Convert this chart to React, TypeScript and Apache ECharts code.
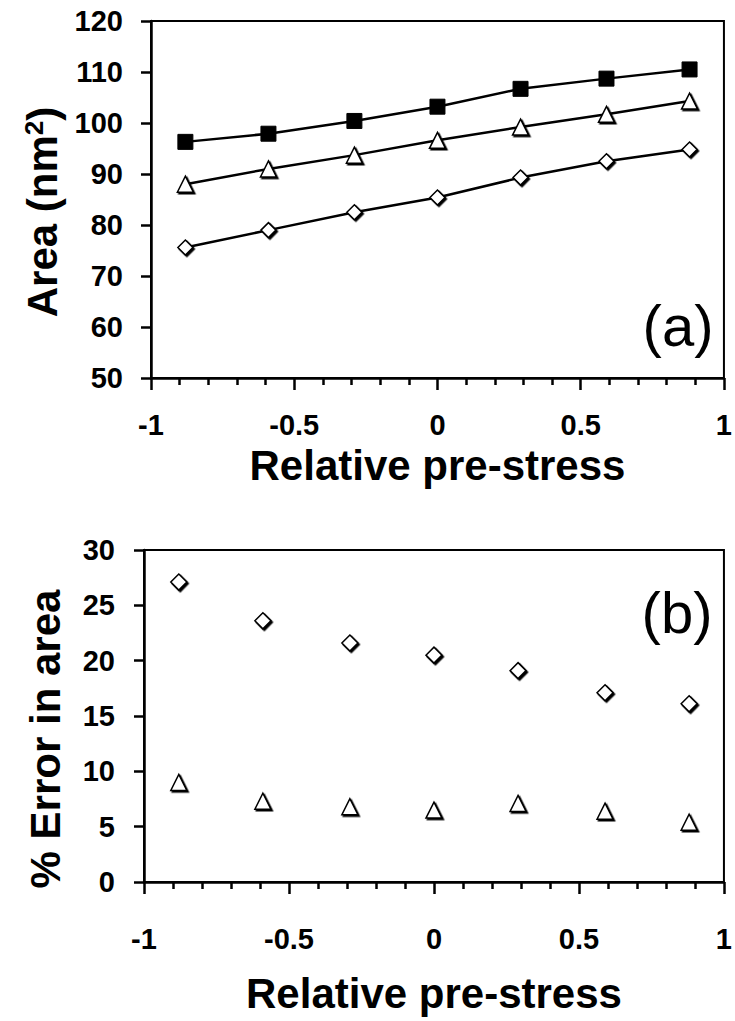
import React, { useEffect, useRef } from "react";
import * as echarts from "echarts";

const pressures = [-0.88, -0.59, -0.29, 0, 0.29, 0.59, 0.88];
const areaSquares = [96.3, 97.9, 100.4, 103.2, 106.7, 108.7, 110.5];
const areaTriangles = [88.0, 91.0, 93.7, 96.6, 99.2, 101.7, 104.3];
const areaDiamonds = [75.6, 79.0, 82.5, 85.4, 89.3, 92.5, 94.8];
const errorDiamonds = [27.1, 23.6, 21.6, 20.5, 19.1, 17.1, 16.1];
const errorTriangles = [9.0, 7.3, 6.8, 6.5, 7.1, 6.4, 5.4];

const xName = "Relative pre-stress";
const topYName = "Area (nm{sup|2})";
const bottomYName = "% Error in area";
const panelA = "(a)";
const panelB = "(b)";

const FONT = "'Liberation Sans', Arial, sans-serif";

const pair = (xs: number[], ys: number[]) => xs.map((x, i) => [x, ys[i]]);

export default function App() {
  const ref = useRef<HTMLDivElement>(null);
  useEffect(() => {
    if (!ref.current) return;
    const chart = echarts.init(ref.current, undefined, { renderer: "svg" });
    const tickLabel = {
      color: "#000",
      fontSize: 29,
      fontWeight: "bold" as const,
      fontFamily: FONT,
    };
    const nameStyle = {
      color: "#000",
      fontSize: 42,
      fontWeight: "bold" as const,
      fontFamily: FONT,
    };
    const xAxisBase = (gridIndex: number, margin: number, nameGap: number) => ({
      type: "value" as const,
      gridIndex,
      min: -1,
      max: 1,
      interval: 0.5,
      name: xName,
      nameLocation: "middle" as const,
      nameGap,
      nameTextStyle: nameStyle,
      axisLine: { show: true, onZero: false, lineStyle: { color: "#000", width: 2.5 } },
      axisTick: { show: true, length: 12, lineStyle: { color: "#000", width: 2.5 } },
      minorTick: { show: true, splitNumber: 5, length: 7, lineStyle: { color: "#000", width: 2.5 } },
      splitLine: { show: false },
      minorSplitLine: { show: false },
      axisLabel: { ...tickLabel, margin },
    });
    const markerStyle = {
      color: "#fff",
      borderColor: "#000",
      borderWidth: 1.5,
      opacity: 1,
      shadowColor: "#000",
      shadowOffsetX: 1.5,
      shadowOffsetY: 1.5,
      shadowBlur: 0,
    };
    chart.setOption({
      animation: false,
      backgroundColor: "#fff",
      grid: [
        { left: 151, right: 3, top: 21, height: 357, show: true, borderColor: "#000", borderWidth: 2 },
        { left: 144, right: 8, top: 550, height: 332, show: true, borderColor: "#000", borderWidth: 2 },
      ],
      xAxis: [xAxisBase(0, 32, 66), xAxisBase(1, 42, 90)],
      yAxis: [
        {
          type: "value",
          gridIndex: 0,
          min: 50,
          max: 120,
          interval: 10,
          name: topYName,
          nameLocation: "middle",
          nameGap: 84,
          nameTextStyle: {
            ...nameStyle,
            padding: [0, 25, 0, 0],
            rich: {
              sup: {
                fontSize: 26,
                fontWeight: "bold",
                fontFamily: FONT,
                color: "#000",
                verticalAlign: "bottom",
                padding: [0, 0, 18, 0],
              },
            },
          },
          axisLine: { show: true, onZero: false, lineStyle: { color: "#000", width: 2.5 } },
          axisTick: { show: true, length: 10, lineStyle: { color: "#000", width: 2.5 } },
          splitLine: { show: false },
          axisLabel: { ...tickLabel, margin: 28 },
        },
        {
          type: "value",
          gridIndex: 1,
          min: 0,
          max: 30,
          interval: 5,
          name: bottomYName,
          nameLocation: "middle",
          nameGap: 78,
          nameTextStyle: { ...nameStyle, padding: [0, 46, 0, 0] },
          axisLine: { show: true, onZero: false, lineStyle: { color: "#000", width: 2.5 } },
          axisTick: { show: true, length: 10, lineStyle: { color: "#000", width: 2.5 } },
          splitLine: { show: false },
          axisLabel: { ...tickLabel, margin: 29 },
        },
      ],
      graphic: [
        {
          type: "text",
          x: 678,
          y: 325,
          style: { text: panelA, fontSize: 58, fontFamily: FONT, fill: "#000", align: "center", verticalAlign: "middle" },
        },
        {
          type: "text",
          x: 677,
          y: 612,
          style: { text: panelB, fontSize: 58, fontFamily: FONT, fill: "#000", align: "center", verticalAlign: "middle" },
        },
      ],
      series: [
        {
          type: "line",
          xAxisIndex: 0,
          yAxisIndex: 0,
          data: pair(pressures, areaSquares),
          symbol: "rect",
          symbolSize: 15,
          lineStyle: { color: "#000", width: 2.5 },
          itemStyle: { color: "#000", borderColor: "#000", opacity: 1 },
          z: 3,
        },
        {
          type: "line",
          xAxisIndex: 0,
          yAxisIndex: 0,
          data: pair(pressures, areaTriangles),
          symbol: "triangle",
          symbolSize: [16, 16],
          lineStyle: { color: "#000", width: 2.5 },
          itemStyle: markerStyle,
          z: 3,
        },
        {
          type: "line",
          xAxisIndex: 0,
          yAxisIndex: 0,
          data: pair(pressures, areaDiamonds),
          symbol: "diamond",
          symbolSize: [15, 15],
          lineStyle: { color: "#000", width: 2.5 },
          itemStyle: markerStyle,
          z: 3,
        },
        {
          type: "scatter",
          xAxisIndex: 1,
          yAxisIndex: 1,
          data: pair(pressures, errorDiamonds),
          symbol: "diamond",
          symbolSize: [16, 16],
          itemStyle: markerStyle,
        },
        {
          type: "scatter",
          xAxisIndex: 1,
          yAxisIndex: 1,
          data: pair(pressures, errorTriangles),
          symbol: "triangle",
          symbolSize: [16, 16],
          itemStyle: markerStyle,
        },
      ],
    });
    return () => chart.dispose();
  }, []);
  return (
    <div
      ref={ref}
      style={{ position: "fixed", left: 0, top: 0, width: 735, height: 1021, background: "#fff" }}
    />
  );
}
